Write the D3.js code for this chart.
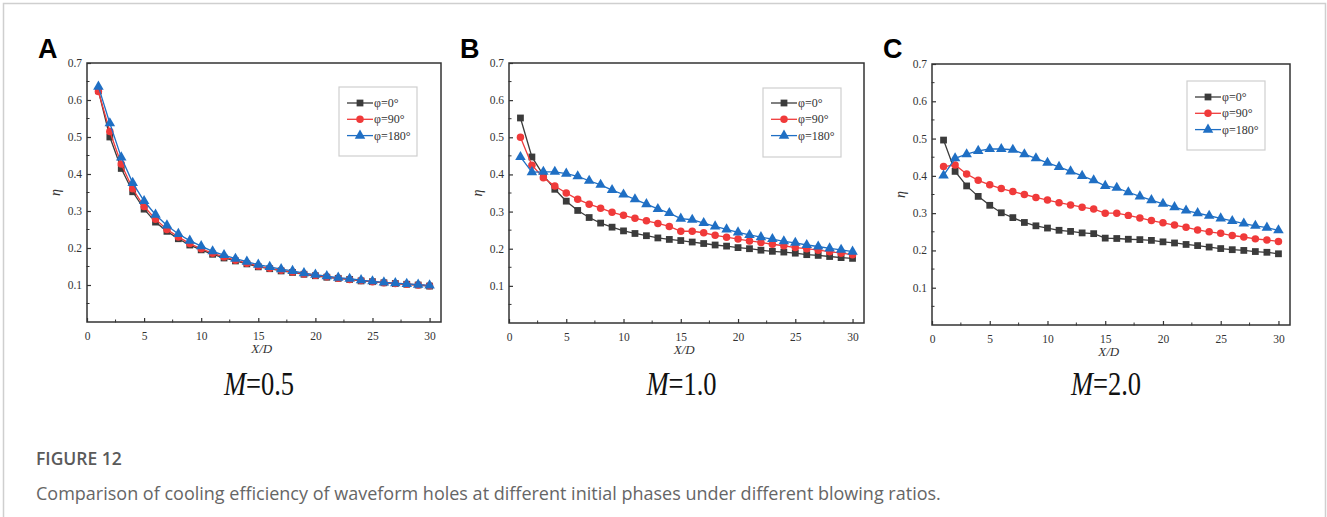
<!DOCTYPE html>
<html>
<head>
<meta charset="utf-8">
<script src="https://cdn.jsdelivr.net/npm/d3@7"></script>
<style>
  body { margin: 0; background: #fff; }
  svg { display: block; }
</style>
</head>
<body>
<div id="chart"></div>
<script>
// chart data
const xd = [1,2,3,4,5,6,7,8,9,10,11,12,13,14,15,16,17,18,19,20,21,22,23,24,25,26,27,28,29,30];

const seriesNames = ["φ=0°", "φ=90°", "φ=180°"];
const blowing = ["M=0.5", "M=1.0", "M=2.0"];
const panelLetters = ["A", "B", "C"];
const yTicks = [0.1, 0.2, 0.3, 0.4, 0.5, 0.6, 0.7];
const xTicks = [0, 5, 10, 15, 20, 25, 30];

// M = 0.5
const a0 = [0.625,0.500,0.415,0.352,0.305,0.270,0.245,0.225,0.208,0.195,0.183,0.173,0.165,0.157,0.149,0.144,0.138,0.134,0.129,0.125,0.121,0.118,0.115,0.111,0.109,0.106,0.104,0.102,0.100,0.097];
const a90 = [0.623,0.515,0.427,0.360,0.312,0.278,0.250,0.230,0.212,0.198,0.186,0.176,0.167,0.159,0.151,0.145,0.140,0.135,0.130,0.126,0.122,0.118,0.115,0.112,0.109,0.106,0.104,0.102,0.100,0.098];
const a180 = [0.636,0.537,0.445,0.376,0.327,0.290,0.261,0.238,0.220,0.205,0.191,0.181,0.171,0.163,0.155,0.149,0.143,0.138,0.132,0.128,0.124,0.120,0.117,0.113,0.110,0.107,0.105,0.103,0.101,0.099];

// M = 1.0
const b0 = [0.552,0.447,0.398,0.360,0.328,0.303,0.284,0.269,0.258,0.248,0.241,0.235,0.229,0.225,0.222,0.218,0.214,0.210,0.207,0.203,0.200,0.196,0.193,0.191,0.188,0.184,0.182,0.179,0.176,0.174];
const b90 = [0.500,0.425,0.391,0.369,0.350,0.333,0.320,0.309,0.298,0.290,0.282,0.275,0.268,0.260,0.247,0.247,0.243,0.236,0.231,0.226,0.221,0.217,0.212,0.208,0.203,0.200,0.196,0.192,0.188,0.184];
const b180 = [0.447,0.406,0.407,0.407,0.402,0.395,0.383,0.372,0.358,0.346,0.333,0.320,0.307,0.296,0.281,0.278,0.269,0.260,0.252,0.244,0.237,0.231,0.226,0.220,0.216,0.210,0.206,0.201,0.197,0.192];

// M = 2.0
const c0 = [0.496,0.412,0.373,0.345,0.321,0.301,0.288,0.275,0.266,0.260,0.254,0.251,0.247,0.245,0.233,0.232,0.230,0.229,0.227,0.223,0.220,0.216,0.213,0.209,0.205,0.202,0.200,0.197,0.195,0.191];
const c90 = [0.425,0.429,0.405,0.388,0.376,0.366,0.358,0.350,0.342,0.335,0.328,0.322,0.316,0.311,0.300,0.300,0.294,0.287,0.280,0.274,0.268,0.262,0.255,0.250,0.246,0.240,0.236,0.231,0.228,0.224];
const c180 = [0.401,0.447,0.458,0.467,0.472,0.472,0.470,0.458,0.447,0.435,0.424,0.412,0.400,0.388,0.373,0.368,0.356,0.345,0.335,0.325,0.316,0.307,0.300,0.293,0.286,0.279,0.272,0.266,0.261,0.254];

const panelData = [[a0, a90, a180], [b0, b90, b180], [c0, c90, c180]];

// layout (pixels)
const panels = [
  { left: 87,  top: 63, width: 354, height: 259, legX: 339,  legY: 87, legRow: 103 },
  { left: 509, top: 63, width: 355, height: 260, legX: 763,  legY: 88, legRow: 103 },
  { left: 932, top: 64, width: 358, height: 261, legX: 1187, legY: 81, legRow: 97 }
];
const colors = ["#3b3b3b", "#f03a3a", "#1f6fc4"];
const markers = [d3.symbolSquare, d3.symbolCircle, d3.symbolTriangle];
const markerSize = [46, 44, 48];

const svg = d3.select("#chart").append("svg")
  .attr("width", 1327)
  .attr("height", 517);

// light frame round the figure
svg.append("path")
  .attr("d", "M3.5,520 L3.5,3.5 L1325.5,3.5 L1325.5,520")
  .attr("fill", "none")
  .attr("stroke", "#cfcfcf")
  .attr("stroke-width", 1.5);

panels.forEach((p, i) => {
  let x = d3.scaleLinear().domain([0, 31]).range([p.left, p.left + p.width]);
  let y = d3.scaleLinear().domain([0, 0.7]).range([p.top + p.height, p.top]);
  let g = svg.append("g");

  // minor ticks
  let xMinor = d3.range(2.5, 31, 5);
  let yMinor = d3.range(0.05, 0.7, 0.1);
  g.selectAll(".xminor").data(xMinor).enter().append("line")
    .attr("x1", d => x(d)).attr("x2", d => x(d))
    .attr("y1", p.top + p.height - 2.5).attr("y2", p.top + p.height + 0.5)
    .attr("stroke", "#333").attr("stroke-width", 1);
  g.selectAll(".yminor").data(yMinor).enter().append("line")
    .attr("y1", d => y(d)).attr("y2", d => y(d))
    .attr("x1", p.left - 0.5).attr("x2", p.left + 2.5)
    .attr("stroke", "#333").attr("stroke-width", 1);

  // major ticks + labels through d3 axes
  let xAxis = d3.axisBottom(x).tickValues(xTicks).tickSizeInner(-4).tickSizeOuter(0).tickPadding(10);
  let yAxis = d3.axisLeft(y).tickValues(yTicks).tickSizeInner(-4).tickSizeOuter(0).tickPadding(5)
    .tickFormat(d3.format(".1f"));

  let gx = g.append("g").attr("transform", `translate(0,${p.top + p.height})`).call(xAxis);
  let gy = g.append("g").attr("transform", `translate(${p.left},0)`).call(yAxis);
  [gx, gy].forEach(ax => {
    ax.select(".domain").remove();
    ax.selectAll(".tick line").attr("stroke", "#333").attr("stroke-width", 1.2);
    ax.selectAll(".tick text")
      .attr("font-family", "Liberation Serif, Times New Roman, serif")
      .attr("font-size", 11.5)
      .attr("fill", "#333");
  });
  gy.selectAll(".tick text").attr("dy", "0.3em");

  // plot box
  g.append("rect")
    .attr("x", p.left).attr("y", p.top)
    .attr("width", p.width).attr("height", p.height)
    .attr("fill", "none")
    .attr("stroke", "#333")
    .attr("stroke-width", 1.5);

  // series
  let line = d3.line().x((d, k) => x(xd[k])).y(d => y(d));
  panelData[i].forEach((vals, s) => {
    g.append("path")
      .attr("d", line(vals))
      .attr("fill", "none")
      .attr("stroke", colors[s])
      .attr("stroke-width", 1.3);
    g.selectAll(".m" + s).data(vals).enter().append("path")
      .attr("d", d3.symbol().type(markers[s]).size(markerSize[s]))
      .attr("transform", (d, k) => `translate(${x(xd[k])},${y(d)})`)
      .attr("fill", colors[s]);
  });

  // legend
  g.append("rect")
    .attr("x", p.legX).attr("y", p.legY)
    .attr("width", 78).attr("height", 69)
    .attr("fill", "#fff")
    .attr("stroke", "#cfcfcf")
    .attr("stroke-width", 1.2);
  seriesNames.forEach((name, s) => {
    let ly = p.legRow + s * 16.3;
    g.append("line")
      .attr("x1", p.legX + 8).attr("x2", p.legX + 34)
      .attr("y1", ly).attr("y2", ly)
      .attr("stroke", colors[s]).attr("stroke-width", 1.3);
    g.append("path")
      .attr("d", d3.symbol().type(markers[s]).size(markerSize[s]))
      .attr("transform", `translate(${p.legX + 21},${ly})`)
      .attr("fill", colors[s]);
    g.append("text")
      .attr("x", p.legX + 35).attr("y", ly + 4)
      .attr("font-family", "Liberation Serif, Times New Roman, serif")
      .attr("font-size", 12)
      .attr("fill", "#333")
      .text(name);
  });

  // axis titles
  g.append("text")
    .attr("x", x(15.3)).attr("y", p.top + p.height + 31)
    .attr("text-anchor", "middle")
    .attr("font-family", "Liberation Serif, Times New Roman, serif")
    .attr("font-style", "italic")
    .attr("font-size", 13)
    .attr("fill", "#333")
    .text("X/D");
  g.append("text")
    .attr("transform", `translate(${p.left - 27},${p.top + p.height / 2}) rotate(-90)`)
    .attr("text-anchor", "middle")
    .attr("font-family", "Liberation Serif, Times New Roman, serif")
    .attr("font-style", "italic")
    .attr("font-size", 14)
    .attr("fill", "#333")
    .text("η");

  // panel letter
  g.append("text")
    .attr("x", p.left - 49).attr("y", 58)
    .attr("font-family", "Liberation Sans, Arial, sans-serif")
    .attr("font-weight", "bold")
    .attr("font-size", 27)
    .attr("fill", "#000")
    .text(panelLetters[i]);

  // blowing ratio label
  let parts = blowing[i].split("=");
  let cx = p.left + p.width / 2 - 5;
  let t = g.append("text")
    .attr("transform", `translate(${cx},395) scale(0.78,1)`)
    .attr("text-anchor", "middle")
    .attr("font-family", "Liberation Serif, Times New Roman, serif")
    .attr("font-size", 34)
    .attr("fill", "#111");
  t.append("tspan").attr("font-style", "italic").text(parts[0]);
  t.append("tspan").text("=" + parts[1]);
});

// caption
svg.append("text")
  .attr("x", 36).attr("y", 465)
  .attr("font-family", "Open Sans, sans-serif")
  .attr("font-weight", 600)
  .attr("font-size", 17.5)
  .attr("fill", "#5a5a5a")
  .text("FIGURE 12");
svg.append("text")
  .attr("x", 36).attr("y", 500)
  .attr("font-family", "Open Sans, sans-serif")
  .attr("font-size", 18)
  .attr("fill", "#666")
  .text("Comparison of cooling efficiency of waveform holes at different initial phases under different blowing ratios.");
</script>
</body>
</html>
